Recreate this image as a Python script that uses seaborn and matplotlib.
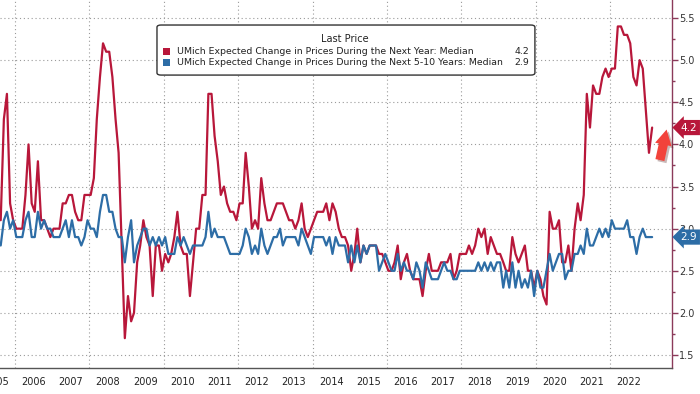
import numpy as np
import pandas as pd
import matplotlib
matplotlib.use("Agg")
import matplotlib.pyplot as plt
import matplotlib.dates as mdates
import matplotlib.transforms as mtransforms
import matplotlib.patheffects as pe
from matplotlib.patches import FancyBboxPatch, Rectangle
from matplotlib.ticker import MultipleLocator, FuncFormatter, NullFormatter
import seaborn as sns

# monthly survey values, first month is Aug 2005
START = "2005-08-01"

next_year = [
    3.1, 4.3, 4.6, 3.3, 3.1,                                      # 2005 (Aug-Dec)
    3.0, 3.0, 3.0, 3.4, 4.0, 3.3, 3.2, 3.8, 3.1, 3.1, 3.0, 2.9,  # 2006
    3.0, 3.0, 3.0, 3.3, 3.3, 3.4, 3.4, 3.2, 3.1, 3.1, 3.4, 3.4,  # 2007
    3.4, 3.6, 4.3, 4.8, 5.2, 5.1, 5.1, 4.8, 4.3, 3.9, 2.8, 1.7,  # 2008
    2.2, 1.9, 2.0, 2.6, 2.8, 3.1, 2.9, 2.8, 2.2, 2.8, 2.8, 2.5,  # 2009
    2.7, 2.6, 2.7, 2.9, 3.2, 2.8, 2.7, 2.7, 2.2, 2.6, 3.0, 3.0,  # 2010
    3.4, 3.4, 4.6, 4.6, 4.1, 3.8, 3.4, 3.5, 3.3, 3.2, 3.2, 3.1,  # 2011
    3.3, 3.3, 3.9, 3.5, 3.0, 3.1, 3.0, 3.6, 3.3, 3.1, 3.1, 3.2,  # 2012
    3.3, 3.3, 3.3, 3.2, 3.1, 3.1, 3.0, 3.1, 3.3, 3.0, 2.9, 3.0,  # 2013
    3.1, 3.2, 3.2, 3.2, 3.3, 3.1, 3.3, 3.2, 3.0, 2.9, 2.9, 2.8,  # 2014
    2.5, 2.7, 3.0, 2.6, 2.8, 2.7, 2.8, 2.8, 2.8, 2.7, 2.7, 2.6,  # 2015
    2.5, 2.5, 2.6, 2.8, 2.4, 2.6, 2.7, 2.5, 2.4, 2.4, 2.4, 2.2,  # 2016
    2.5, 2.7, 2.5, 2.5, 2.5, 2.6, 2.6, 2.6, 2.7, 2.4, 2.5, 2.7,  # 2017
    2.7, 2.7, 2.8, 2.7, 2.8, 3.0, 2.9, 3.0, 2.7, 2.9, 2.8, 2.7,  # 2018
    2.7, 2.6, 2.5, 2.5, 2.9, 2.7, 2.6, 2.7, 2.8, 2.5, 2.5, 2.3,  # 2019
    2.5, 2.4, 2.2, 2.1, 3.2, 3.0, 3.0, 3.1, 2.6, 2.6, 2.8, 2.5,  # 2020
    3.0, 3.3, 3.1, 3.4, 4.6, 4.2, 4.7, 4.6, 4.6, 4.8, 4.9, 4.8,  # 2021
    4.9, 4.9, 5.4, 5.4, 5.3, 5.3, 5.2, 4.8, 4.7, 5.0, 4.9, 4.4,  # 2022
    3.9, 4.2,                                                     # 2023
]

five_to_ten = [
    2.8, 3.1, 3.2, 3.0, 3.1,
    2.9, 2.9, 2.9, 3.1, 3.2, 2.9, 2.9, 3.2, 3.0, 3.1, 3.0, 3.0,
    2.9, 2.9, 2.9, 3.0, 3.1, 2.9, 3.1, 2.9, 2.9, 2.8, 2.9, 3.1,
    3.0, 3.0, 2.9, 3.2, 3.4, 3.4, 3.2, 3.2, 3.0, 2.9, 2.9, 2.6,
    2.9, 3.1, 2.6, 2.8, 2.9, 3.0, 3.0, 2.8, 2.9, 2.8, 2.9, 2.8,
    2.9, 2.7, 2.7, 2.7, 2.9, 2.8, 2.9, 2.8, 2.7, 2.8, 2.8, 2.8,
    2.8, 2.9, 3.2, 2.9, 3.0, 2.9, 2.9, 2.9, 2.8, 2.7, 2.7, 2.7,
    2.7, 2.8, 3.0, 2.9, 2.7, 2.8, 2.7, 3.0, 2.8, 2.7, 2.8, 2.9,
    2.9, 3.0, 2.8, 2.9, 2.9, 2.9, 2.9, 2.8, 3.0, 2.9, 2.8, 2.7,
    2.9, 2.9, 2.9, 2.9, 2.8, 2.9, 2.7, 2.9, 2.8, 2.8, 2.8, 2.6,
    2.8, 2.6, 2.8, 2.6, 2.8, 2.7, 2.8, 2.8, 2.8, 2.5, 2.6, 2.7,
    2.6, 2.5, 2.5, 2.7, 2.5, 2.6, 2.5, 2.5, 2.4, 2.6, 2.5, 2.3,
    2.6, 2.5, 2.4, 2.4, 2.4, 2.5, 2.6, 2.5, 2.5, 2.4, 2.4, 2.5,
    2.5, 2.5, 2.5, 2.5, 2.5, 2.6, 2.5, 2.6, 2.5, 2.6, 2.5, 2.6,
    2.6, 2.3, 2.5, 2.3, 2.6, 2.3, 2.5, 2.3, 2.4, 2.3, 2.5, 2.2,
    2.5, 2.3, 2.3, 2.5, 2.7, 2.5, 2.6, 2.7, 2.7, 2.4, 2.5, 2.5,
    2.7, 2.7, 2.8, 2.7, 3.0, 2.8, 2.8, 2.9, 3.0, 2.9, 3.0, 2.9,
    3.1, 3.0, 3.0, 3.0, 3.0, 3.1, 2.9, 2.9, 2.7, 2.9, 3.0, 2.9,
    2.9, 2.9,
]

LABEL_1 = "UMich Expected Change in Prices During the Next Year: Median"
LABEL_2 = "UMich Expected Change in Prices During the Next 5-10 Years: Median"
year_labels = list(range(2005, 2023))

RED = "#b8173a"
BLUE = "#2d6da6"
GRID = "#9a9a9a"
SPINE_R = "#8b3a5a"

sns.set_theme(style="white")
plt.rcParams["font.family"] = ["DejaVu Sans"]

dates = pd.date_range(START, periods=len(next_year), freq="MS") + pd.Timedelta(days=14)
df = pd.DataFrame({"date": dates, LABEL_1: next_year, LABEL_2: five_to_ten})
df = df.melt("date", var_name="series", value_name="value")

fig = plt.figure(figsize=(7, 3.94), dpi=100)
ax = fig.add_axes([0, 1 - 368 / 394, 672 / 700, 368 / 394])

sns.lineplot(data=df, x="date", y="value", hue="series", hue_order=[LABEL_1, LABEL_2],
             palette=[RED, BLUE], linewidth=1.6, legend=False, ax=ax)

ax.set_xlim(pd.Timestamp("2005-08-08"), pd.Timestamp("2023-08-29"))
ax.set_ylim(1.346, 5.714)
ax.set_xlabel("")
ax.set_ylabel("")

for s in ["top", "left"]:
    ax.spines[s].set_visible(False)
ax.spines["right"].set_color(SPINE_R)
ax.spines["right"].set_linewidth(1)
ax.spines["bottom"].set_color("#555555")
ax.spines["bottom"].set_linewidth(1)

# x axis: year separators below the axis, labels in the middle of each year
ax.xaxis.set_major_locator(mdates.YearLocator())
ax.xaxis.set_major_formatter(NullFormatter())
ax.tick_params(axis="x", which="major", length=19, width=0.8, color="#666666", direction="out")
for yr in year_labels:
    ax.text(pd.Timestamp(f"{yr}-07-02"), -0.038, str(yr), transform=ax.get_xaxis_transform(),
            ha="center", va="center", fontsize=7, color="#222222", clip_on=False)

for yr in range(2006, 2024, 2):
    ax.axvline(pd.Timestamp(f"{yr}-01-01"), color=GRID, lw=0.8, ls=(0, (1, 2.5)), zorder=0)

# y axis on the right
ax.yaxis.tick_right()
ax.yaxis.set_major_locator(MultipleLocator(0.5))
ax.yaxis.set_minor_locator(MultipleLocator(0.25))
ax.yaxis.set_major_formatter(FuncFormatter(lambda v, p: f"{v:.1f}"))
ax.tick_params(axis="y", which="major", length=4, width=1, color=SPINE_R,
               labelsize=7, labelcolor="#333333", pad=1)
ax.tick_params(axis="y", which="minor", length=2.5, width=1, color=SPINE_R)
ax.yaxis.grid(True, which="major", color=GRID, lw=0.8, ls=(0, (1, 2.5)))
ax.xaxis.grid(False)

# last price tags on the right axis
trans = mtransforms.blended_transform_factory(ax.transAxes, ax.transData)
for vals, col in [(next_year, RED), (five_to_ten, BLUE)]:
    ax.text(1.013, vals[-1], f"{vals[-1]:.1f}", transform=trans, ha="left", va="center",
            color="white", fontsize=7.5, clip_on=False, zorder=10,
            bbox=dict(boxstyle="larrow,pad=0.25", fc=col, ec="none"))

# red arrow pointing up
ax.annotate("", xy=(0.992, 0.648), xytext=(0.982, 0.565), xycoords="axes fraction",
            arrowprops=dict(arrowstyle="simple,head_length=1.0,head_width=1.1,tail_width=0.6",
                            fc="#f2433b", ec="none", shrinkA=0, shrinkB=0, mutation_scale=11,
                            path_effects=[pe.SimplePatchShadow(offset=(1.5, -1.5), alpha=0.3), pe.Normal()]))

# legend box
box = FancyBboxPatch((0.2336, 0.796), 0.5624, 0.136, boxstyle="round,pad=0,rounding_size=0.006",
                     transform=ax.transAxes, fc="white", ec="#333333", lw=1, zorder=5)
ax.add_patch(box)
ax.text(0.513, 0.894, "Last Price", transform=ax.transAxes, ha="center", va="center",
        fontsize=7, color="#222222", zorder=6)
for y, col, lab, vals in [(0.859, RED, LABEL_1, next_year), (0.829, BLUE, LABEL_2, five_to_ten)]:
    ax.add_patch(Rectangle((0.2426, y - 0.0095), 0.0104, 0.019, transform=ax.transAxes,
                           fc=col, ec="none", zorder=6))
    ax.text(0.263, y, lab, transform=ax.transAxes, ha="left", va="center",
            fontsize=6.75, color="#222222", zorder=6)
    ax.text(0.787, y, f"{vals[-1]:.1f}", transform=ax.transAxes, ha="right", va="center",
            fontsize=6.75, color="#222222", zorder=6)

fig.savefig("out.png", dpi=100, facecolor="white")
